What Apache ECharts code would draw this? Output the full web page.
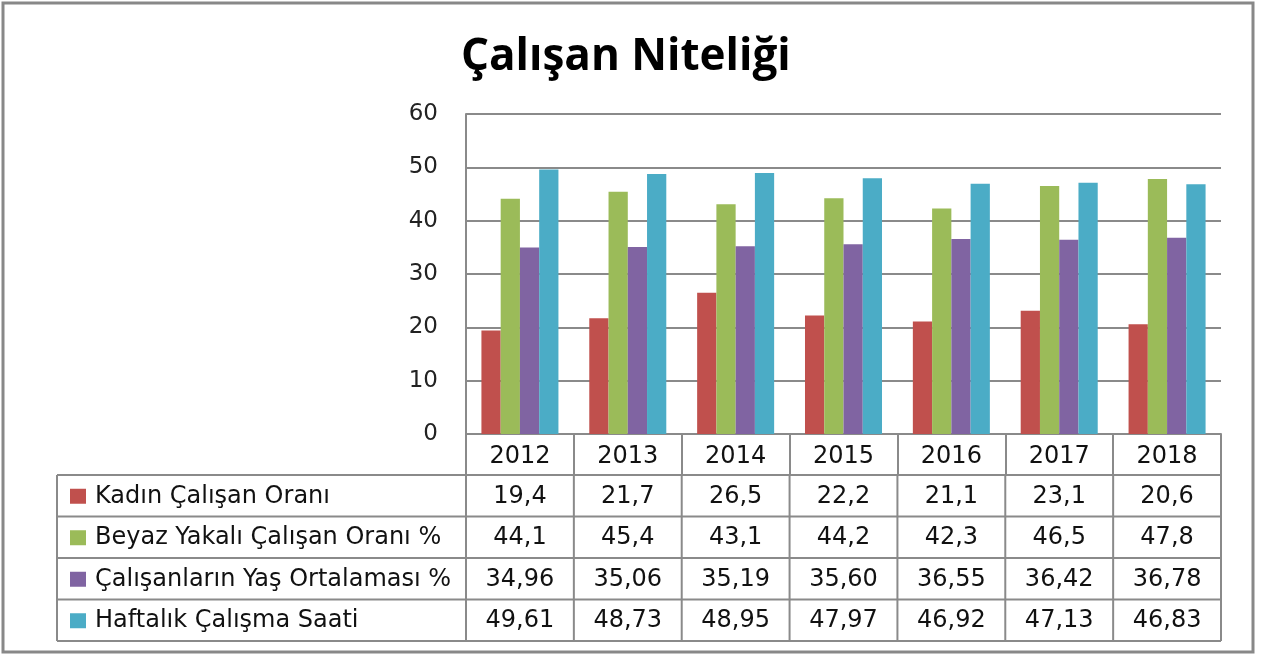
<!DOCTYPE html>
<html>
<head>
<meta charset="utf-8">
<script src="https://cdn.jsdelivr.net/npm/echarts@6/dist/echarts.min.js"></script>
<style>
  html, body { margin: 0; padding: 0; background: #fff; }
  #chart { width: 1262px; height: 655px; }
</style>
</head>
<body>
<div id="chart"></div>
<script>
const years = ['2012', '2013', '2014', '2015', '2016', '2017', '2018']
const seriesNames = [
  'Kadın Çalışan Oranı',
  'Beyaz Yakalı Çalışan Oranı %',
  'Çalışanların Yaş Ortalaması %',
  'Haftalık Çalışma Saati'
]
const kadinOrani = [19.4, 21.7, 26.5, 22.2, 21.1, 23.1, 20.6]
const beyazYakaliOrani = [44.1, 45.4, 43.1, 44.2, 42.3, 46.5, 47.8]
const yasOrtalamasi = [34.96, 35.06, 35.19, 35.60, 36.55, 36.42, 36.78]
const haftalikSaat = [49.61, 48.73, 48.95, 47.97, 46.92, 47.13, 46.83]
const decimals = [1, 1, 2, 2]
const colors = ['#C0504D', '#9BBB59', '#8064A2', '#4BACC6']
const yTicks = { min: 0, max: 60, interval: 10 }

const allData = [kadinOrani, beyazYakaliOrani, yasOrtalamasi, haftalikSaat]

const W = 1262
const H = 655
const gridLeft = 466
const gridRight = 41
const gridTop = 114
const gridBottom = 221
const lineColor = '#8a8a8a'
const textFont = 'DejaVu Sans'
const tableFontSize = 24

const plotRight = W - gridRight
const axisY = H - gridBottom
const colW = (plotRight - gridLeft) / years.length
const headerBottom = axisY + 41
const rowH = 41.5
const tableLeft = 57
const tableBottom = headerBottom + rowH * seriesNames.length

const fmt = (v, d) => v.toFixed(d).replace('.', ',')

const buildTable = () => {
  const els = []
  // horizontal lines
  for (let r = 0; r <= seriesNames.length; r++) {
    const y = headerBottom + r * rowH
    els.push({
      type: 'line',
      shape: { x1: tableLeft, y1: y, x2: plotRight, y2: y },
      style: { stroke: lineColor, lineWidth: 2 }
    })
  }
  // vertical lines
  els.push({
    type: 'line',
    shape: { x1: tableLeft, y1: headerBottom, x2: tableLeft, y2: tableBottom },
    style: { stroke: lineColor, lineWidth: 2 }
  })
  for (let c = 0; c <= years.length; c++) {
    const x = gridLeft + c * colW
    els.push({
      type: 'line',
      shape: { x1: x, y1: headerBottom, x2: x, y2: tableBottom },
      style: { stroke: lineColor, lineWidth: 2 }
    })
  }
  // rows: legend key, name, values
  seriesNames.forEach((name, r) => {
    const cy = headerBottom + r * rowH + rowH / 2 + 1
    els.push({
      type: 'rect',
      shape: { x: 70, y: cy - 8, width: 16, height: 15 },
      style: { fill: colors[r] }
    })
    els.push({
      type: 'text',
      x: 95,
      y: cy,
      style: {
        text: name,
        fontSize: tableFontSize,
        fontFamily: textFont,
        fill: '#111',
        align: 'left',
        verticalAlign: 'middle'
      }
    })
    allData[r].forEach((v, c) => {
      els.push({
        type: 'text',
        x: gridLeft + c * colW + colW / 2,
        y: cy,
        style: {
          text: fmt(v, decimals[r]),
          fontSize: tableFontSize,
          fontFamily: textFont,
          fill: '#111',
          align: 'center',
          verticalAlign: 'middle'
        }
      })
    })
  })
  // outer frame
  els.push({
    type: 'rect',
    shape: { x: 3, y: 3, width: 1250, height: 649 },
    style: { fill: 'none', stroke: '#888', lineWidth: 3 }
  })
  return els
}

const chart = echarts.init(document.getElementById('chart'), null, { renderer: 'canvas' })
chart.setOption({
  backgroundColor: '#fff',
  animation: false,
  title: {
    text: 'Çalışan Niteliği',
    left: 456,
    top: 30,
    textStyle: {
      fontFamily: 'Open Sans',
      fontWeight: 'bold',
      fontSize: 44,
      color: '#000'
    }
  },
  grid: {
    left: gridLeft,
    right: gridRight,
    top: gridTop,
    bottom: gridBottom,
    containLabel: false
  },
  xAxis: {
    type: 'category',
    data: years,
    axisLine: { show: true, lineStyle: { color: lineColor, width: 2 } },
    axisTick: {
      show: true,
      inside: false,
      length: 41,
      interval: 0,
      lineStyle: { color: lineColor, width: 2 }
    },
    axisLabel: {
      fontFamily: textFont,
      fontSize: tableFontSize,
      color: '#111',
      margin: 11
    }
  },
  yAxis: {
    type: 'value',
    min: yTicks.min,
    max: yTicks.max,
    interval: yTicks.interval,
    axisLine: { show: true, lineStyle: { color: lineColor, width: 2 } },
    axisTick: { show: false },
    splitLine: { show: true, lineStyle: { color: lineColor, width: 2 } },
    axisLabel: {
      fontFamily: textFont,
      fontSize: 23,
      color: '#222',
      margin: 28
    }
  },
  series: seriesNames.map((name, i) => ({
    name: name,
    type: 'bar',
    data: allData[i],
    barGap: '0%',
    barCategoryGap: '28.6%',
    itemStyle: { color: colors[i] }
  })),
  graphic: buildTable()
})
</script>
</body>
</html>
